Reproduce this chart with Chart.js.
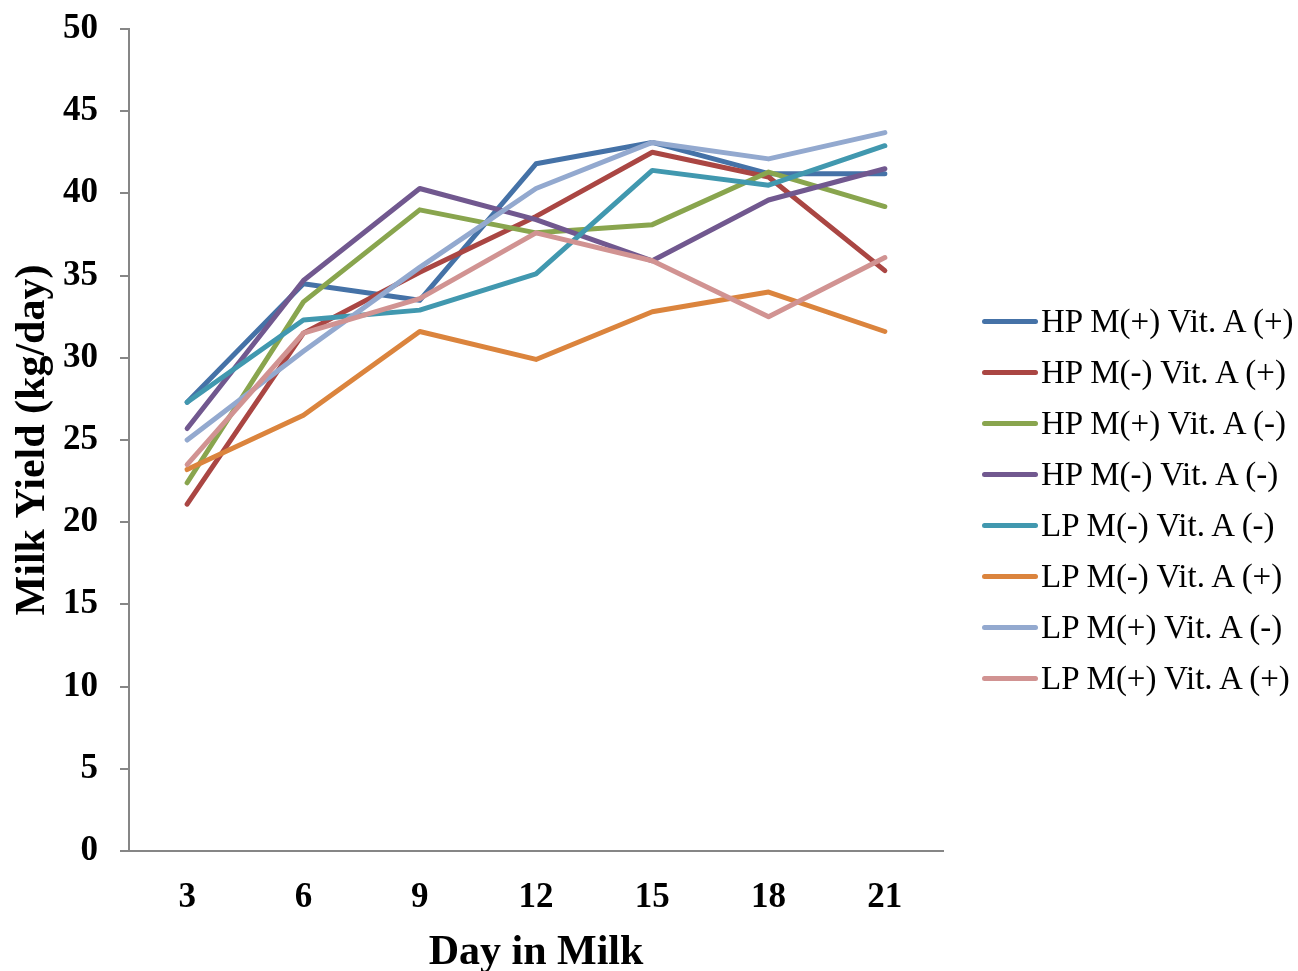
<!DOCTYPE html>
<html>
<head>
<meta charset="utf-8">
<script src="https://cdn.jsdelivr.net/npm/chart.js@4/dist/chart.umd.min.js"></script>
<style>
  html, body { margin: 0; padding: 0; background: #fff; overflow: hidden; }
  #wrap { position: relative; width: 1298px; height: 971px; overflow: hidden; }
  #legend { position: absolute; left: 982px; top: 296px; font-family: 'Liberation Serif', 'Times New Roman', serif; font-size: 33px; color: #000; }
  #legend .row { height: 51px; display: flex; align-items: center; white-space: nowrap; }
  #legend .swatch { width: 56px; height: 5px; border-radius: 2.5px; margin-right: 3px; }
</style>
</head>
<body>
<div id="wrap">
  <canvas id="chart" width="1298" height="978"></canvas>
  <div id="legend"></div>
</div>
<script>
const days = ['3', '6', '9', '12', '15', '18', '21'];

const seriesNames = [
  'HP M(+) Vit. A (+)',
  'HP M(-) Vit. A (+)',
  'HP M(+) Vit. A (-)',
  'HP M(-) Vit. A (-)',
  'LP M(-) Vit. A (-)',
  'LP M(-) Vit. A (+)',
  'LP M(+) Vit. A (-)',
  'LP M(+) Vit. A (+)'
];

const hpMpVp = [27.3, 34.5, 33.5, 41.8, 43.1, 41.2, 41.2];
const hpMmVp = [21.1, 31.5, 35.2, 38.6, 42.5, 41.0, 35.3];
const hpMpVm = [22.4, 33.4, 39.0, 37.6, 38.1, 41.3, 39.2];
const hpMmVm = [25.7, 34.7, 40.3, 38.4, 35.9, 39.6, 41.5];
const lpMmVm = [27.3, 32.3, 32.9, 35.1, 41.4, 40.5, 42.9];
const lpMmVp = [23.2, 26.5, 31.6, 29.9, 32.8, 34.0, 31.6];
const lpMpVm = [25.0, 30.4, 35.5, 40.3, 43.1, 42.1, 43.7];
const lpMpVp = [23.5, 31.5, 33.6, 37.6, 35.9, 32.5, 36.1];

const seriesValues = [hpMpVp, hpMmVp, hpMpVm, hpMmVm, lpMmVm, lpMmVp, lpMpVm, lpMpVp];
const colors = ['#4572A7', '#AA4643', '#89A54E', '#71588F', '#4198AF', '#DB843D', '#93A9CF', '#D19392'];

const serif = "'Liberation Serif', 'Times New Roman', serif";
const axisGray = '#868686';

const datasets = seriesValues.map((vals, i) => ({
  label: seriesNames[i],
  data: vals,
  borderColor: colors[i],
  backgroundColor: colors[i],
  borderWidth: 5,
  borderCapStyle: 'round',
  borderJoinStyle: 'round',
  pointRadius: 0,
  tension: 0,
  fill: false,
  order: seriesValues.length - 1 - i   // later series drawn on top, like Excel
}));

new Chart(document.getElementById('chart'), {
  type: 'line',
  data: { labels: days, datasets: datasets },
  options: {
    responsive: false,
    animation: false,
    layout: { padding: { left: 0, right: 355, top: 0, bottom: 0 } },
    plugins: {
      legend: { display: false },
      tooltip: { enabled: false }
    },
    scales: {
      x: {
        offset: true,
        grid: { display: false, drawTicks: false },
        border: { display: true, color: axisGray, width: 2 },
        ticks: {
          color: '#000',
          padding: 26,
          font: { family: serif, size: 35, weight: 'bold' }
        },
        title: {
          display: true,
          text: 'Day in Milk',
          color: '#000',
          padding: { top: 0, bottom: 0 },
          font: { family: serif, size: 42, weight: 'bold' }
        },
        afterFit: (scale) => { scale.height = 127; }
      },
      y: {
        min: 0,
        max: 50,
        ticks: {
          stepSize: 5,
          color: '#000',
          padding: 22,
          font: { family: serif, size: 35, weight: 'bold' }
        },
        grid: { drawOnChartArea: false, drawTicks: true, tickLength: 9, color: axisGray, lineWidth: 2 },
        border: { display: true, color: axisGray, width: 2 },
        title: {
          display: true,
          text: 'Milk Yield (kg/day)',
          color: '#000',
          padding: { top: 8, bottom: 0 },
          font: { family: serif, size: 42, weight: 'bold' }
        },
        afterFit: (scale) => { scale.width = 129; scale.paddingTop = 29; }
      }
    }
  }
});

// legend built from the same arrays
const legend = document.getElementById('legend');
seriesNames.forEach((name, i) => {
  const row = document.createElement('div');
  row.className = 'row';
  const sw = document.createElement('span');
  sw.className = 'swatch';
  sw.style.background = colors[i];
  const txt = document.createElement('span');
  txt.textContent = name;
  row.appendChild(sw);
  row.appendChild(txt);
  legend.appendChild(row);
});
</script>
</body>
</html>
